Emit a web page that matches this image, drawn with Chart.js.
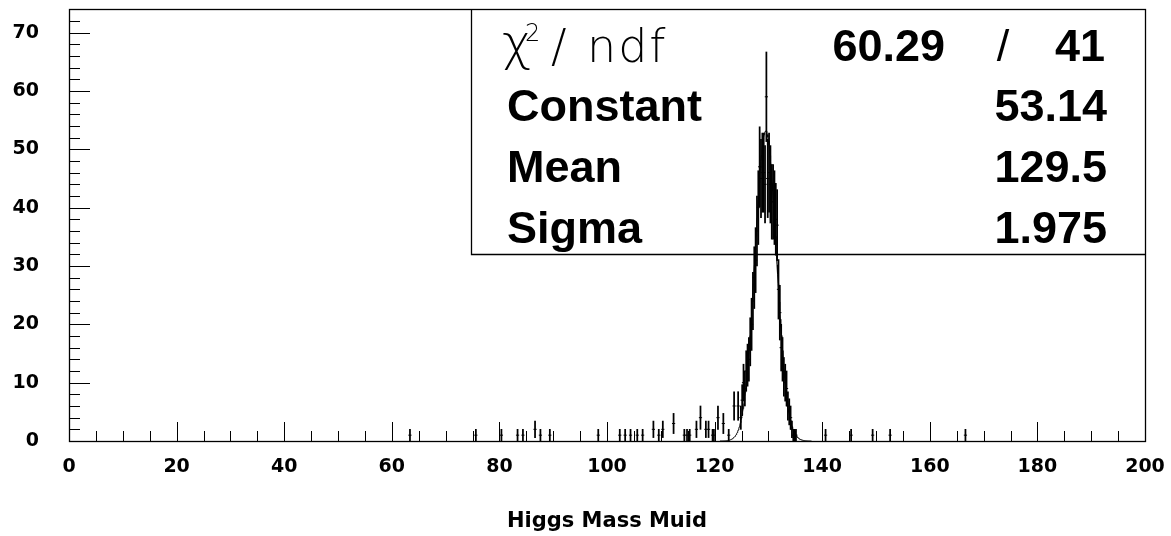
<!DOCTYPE html>
<html>
<head>
<meta charset="utf-8">
<script src="https://cdn.jsdelivr.net/npm/chart.js@4.4.0/dist/chart.umd.min.js"></script>
<style>
  html, body { margin: 0; padding: 0; background: #fff; overflow: hidden; }
  #c { display: block; }
</style>
</head>
<body>
<canvas id="c" width="1171" height="536"></canvas>
<script>
// ---- data (bin width 0.25) ----
const binCenters = [
  63.375, 75.625, 80.375, 83.375, 84.375, 86.625, 87.625, 89.375, 98.375,
  102.375, 103.375, 104.375, 105.625, 106.625, 108.625, 109.625, 110.375,
  112.375, 114.375, 114.875, 115.375, 116.625, 117.375, 118.375, 118.875,
  119.625, 119.875, 120.625, 121.625, 122.625, 123.625, 124.375, 124.875,
  125.125, 125.375, 125.625, 125.875, 126.125, 126.375, 126.625, 126.875,
  127.125, 127.375, 127.625, 127.875, 128.125, 128.375, 128.625, 128.875,
  129.125, 129.375, 129.625, 129.875, 130.125, 130.375, 130.625, 130.875,
  131.125, 131.375, 131.625, 131.875, 132.125, 132.375, 132.625, 132.875,
  133.125, 133.375, 133.625, 133.875, 134.125, 134.375, 134.625, 134.875,
  135.125, 140.625, 145.375, 149.375, 152.625, 166.625
];
const binCounts = [
  1, 1, 1, 1, 1, 2, 1, 1, 1,
  1, 1, 1, 1, 1, 2, 1, 2,
  3, 1, 1, 1, 2, 4, 2, 2,
  1, 1, 4, 3, 1, 6, 6, 4,
  7, 10, 9, 12, 13, 14, 17, 20,
  24, 28, 31, 36, 40, 47, 45, 46,
  46, 44, 59, 45, 46, 44, 41, 41,
  40, 38, 37, 26, 22, 16, 14, 11,
  10, 9, 6, 5, 4, 2, 1, 1,
  1, 1, 1, 1, 1, 1
];
const xTickLabels = ['0', '20', '40', '60', '80', '100', '120', '140', '160', '180', '200'];
const yTickLabels = ['0', '10', '20', '30', '40', '50', '60', '70'];
const xMinorStep = 5;
const yMinorStep = 2;
const xRange = [0, 200];
const yRange = [0, 74.05];

// ---- fit result shown in the stats box ----
const statNames = ['Constant', 'Mean', 'Sigma'];
const statValues = ['53.14', '129.5', '1.975'];
const chi2Text = '60.29';
const ndfText = '41';
const fitConstant = 53.14, fitMean = 129.5, fitSigma = 1.975;
const fitRange = [121.0, 138.0];
const axisTitle = 'Higgs Mass Muid';

// ---- datasets built from the arrays ----
const errorBars = binCenters.map((x, i) => {
  const c = binCounts[i], e = Math.sqrt(c);
  return { x: x, y: [c - e, c + e] };
});
const markers = binCenters.map((x, i) => ({ x: x, y: binCounts[i] }));
const fitCurve = [];
for (let k = 0; k <= 170; k++) {
  const x = fitRange[0] + (fitRange[1] - fitRange[0]) * k / 170;
  fitCurve.push({ x: x, y: fitConstant * Math.exp(-0.5 * Math.pow((x - fitMean) / fitSigma, 2)) });
}

// frame + inward ticks, drawn from the chart's own scales
const framePlugin = {
  id: 'frame',
  beforeDatasetsDraw(chart) {
    const ctx = chart.ctx, a = chart.chartArea;
    const xs = chart.scales.x, ys = chart.scales.y;
    ctx.save();
    ctx.strokeStyle = '#000';
    ctx.lineWidth = 1;
    ctx.beginPath();
    for (let v = xRange[0] + xMinorStep; v < xRange[1]; v += xMinorStep) {
      const major = xTickLabels.includes(String(v));
      const px = Math.round(xs.getPixelForValue(v)) + 0.5;
      ctx.moveTo(px, a.bottom);
      ctx.lineTo(px, a.bottom - (major ? 19 : 10));
    }
    for (let v = yRange[0] + yMinorStep; v < yRange[1]; v += yMinorStep) {
      const major = yTickLabels.includes(String(v));
      const py = Math.round(ys.getPixelForValue(v)) + 0.5;
      ctx.moveTo(a.left, py);
      ctx.lineTo(a.left + (major ? 21 : 11), py);
    }
    ctx.stroke();
    ctx.lineWidth = 1.3;
    ctx.strokeRect(Math.round(a.left) + 0.5, Math.round(a.top) + 0.5,
                   Math.round(a.right - a.left), Math.round(a.bottom - a.top));
    ctx.restore();
  }
};

// statistics box
const statsPlugin = {
  id: 'stats',
  afterDatasetsDraw(chart) {
    const ctx = chart.ctx, a = chart.chartArea;
    ctx.save();
    ctx.strokeStyle = '#000';
    ctx.lineWidth = 1.3;
    ctx.beginPath();
    ctx.moveTo(471.5, a.top);
    ctx.lineTo(471.5, 254.5);
    ctx.lineTo(a.right, 254.5);
    ctx.stroke();
    ctx.fillStyle = '#000';
    ctx.textBaseline = 'alphabetic';
    ctx.textAlign = 'left';
    ctx.font = '200 50px "DejaVu Sans"';
    ctx.fillText('\u03C7', 502, 60);
    ctx.font = '200 24px "DejaVu Sans"';
    ctx.fillText('2', 525, 41);
    ctx.font = '200 46px "DejaVu Sans"';
    ctx.fillText('/', 551, 62);
    ctx.letterSpacing = '2px';
    ctx.fillText('ndf', 587, 62);
    ctx.letterSpacing = '0px';
    ctx.font = 'bold 45px "Liberation Sans"';
    ctx.textAlign = 'right';
    ctx.fillText(chi2Text, 945, 61);
    ctx.fillText(ndfText, 1105, 61);
    ctx.textAlign = 'center';
    ctx.font = '45px "Liberation Sans"';
    ctx.fillText('/', 1003, 61);
    ctx.font = 'bold 45px "Liberation Sans"';
    statNames.forEach((n, i) => {
      const y = 121 + 61 * i;
      ctx.textAlign = 'left';
      ctx.fillText(n, 507, y);
      ctx.textAlign = 'right';
      ctx.fillText(statValues[i], 1107, y);
    });
    ctx.restore();
  }
};

new Chart(document.getElementById('c'), {
  type: 'scatter',
  data: {
    datasets: [
      {
        type: 'line', data: fitCurve, borderColor: '#000', borderWidth: 1,
        pointRadius: 0, tension: 0, fill: false, order: 0
      },
      {
        type: 'scatter', data: markers, pointStyle: 'line', radius: 1.6,
        borderColor: '#000', borderWidth: 1, backgroundColor: '#000', order: 1
      },
      {
        type: 'bar', data: errorBars, backgroundColor: '#000', borderWidth: 0,
        barThickness: 1.1, grouped: false, order: 2
      }
    ]
  },
  options: {
    responsive: false,
    animation: false,
    devicePixelRatio: 1,
    layout: { padding: { left: 0, top: 9, right: 26, bottom: 0 } },
    plugins: { legend: { display: false }, tooltip: { enabled: false } },
    scales: {
      x: {
        type: 'linear', min: xRange[0], max: xRange[1], offset: false,
        grid: { display: false, drawTicks: false },
        border: { display: false },
        afterBuildTicks: s => { s.ticks = xTickLabels.map(t => ({ value: Number(t) })); },
        ticks: {
          autoSkip: false, maxRotation: 0, minRotation: 0, padding: 15, color: '#000',
          font: { family: 'DejaVu Sans', weight: 'bold', size: 19 },
          callback: (v) => xTickLabels[xTickLabels.indexOf(String(v))]
        },
        title: {
          display: true, text: axisTitle, color: '#000',
          font: { family: 'DejaVu Sans', weight: 'bold', size: 21 },
          padding: { top: 0, bottom: 2 }
        },
        afterFit: s => { s.height = 95; s.paddingLeft = 0; s.paddingRight = 0; }
      },
      y: {
        type: 'linear', min: yRange[0], max: yRange[1],
        grid: { display: false, drawTicks: false },
        border: { display: false },
        afterBuildTicks: s => { s.ticks = yTickLabels.map(t => ({ value: Number(t) })); },
        ticks: {
          padding: 30, color: '#000',
          font: { family: 'DejaVu Sans', weight: 'bold', size: 19 },
          callback: (v) => yTickLabels[yTickLabels.indexOf(String(v))]
        },
        afterFit: s => { s.width = 69; s.paddingTop = 0; s.paddingBottom = 0; }
      }
    }
  },
  plugins: [framePlugin, statsPlugin]
});
</script>
</body>
</html>
